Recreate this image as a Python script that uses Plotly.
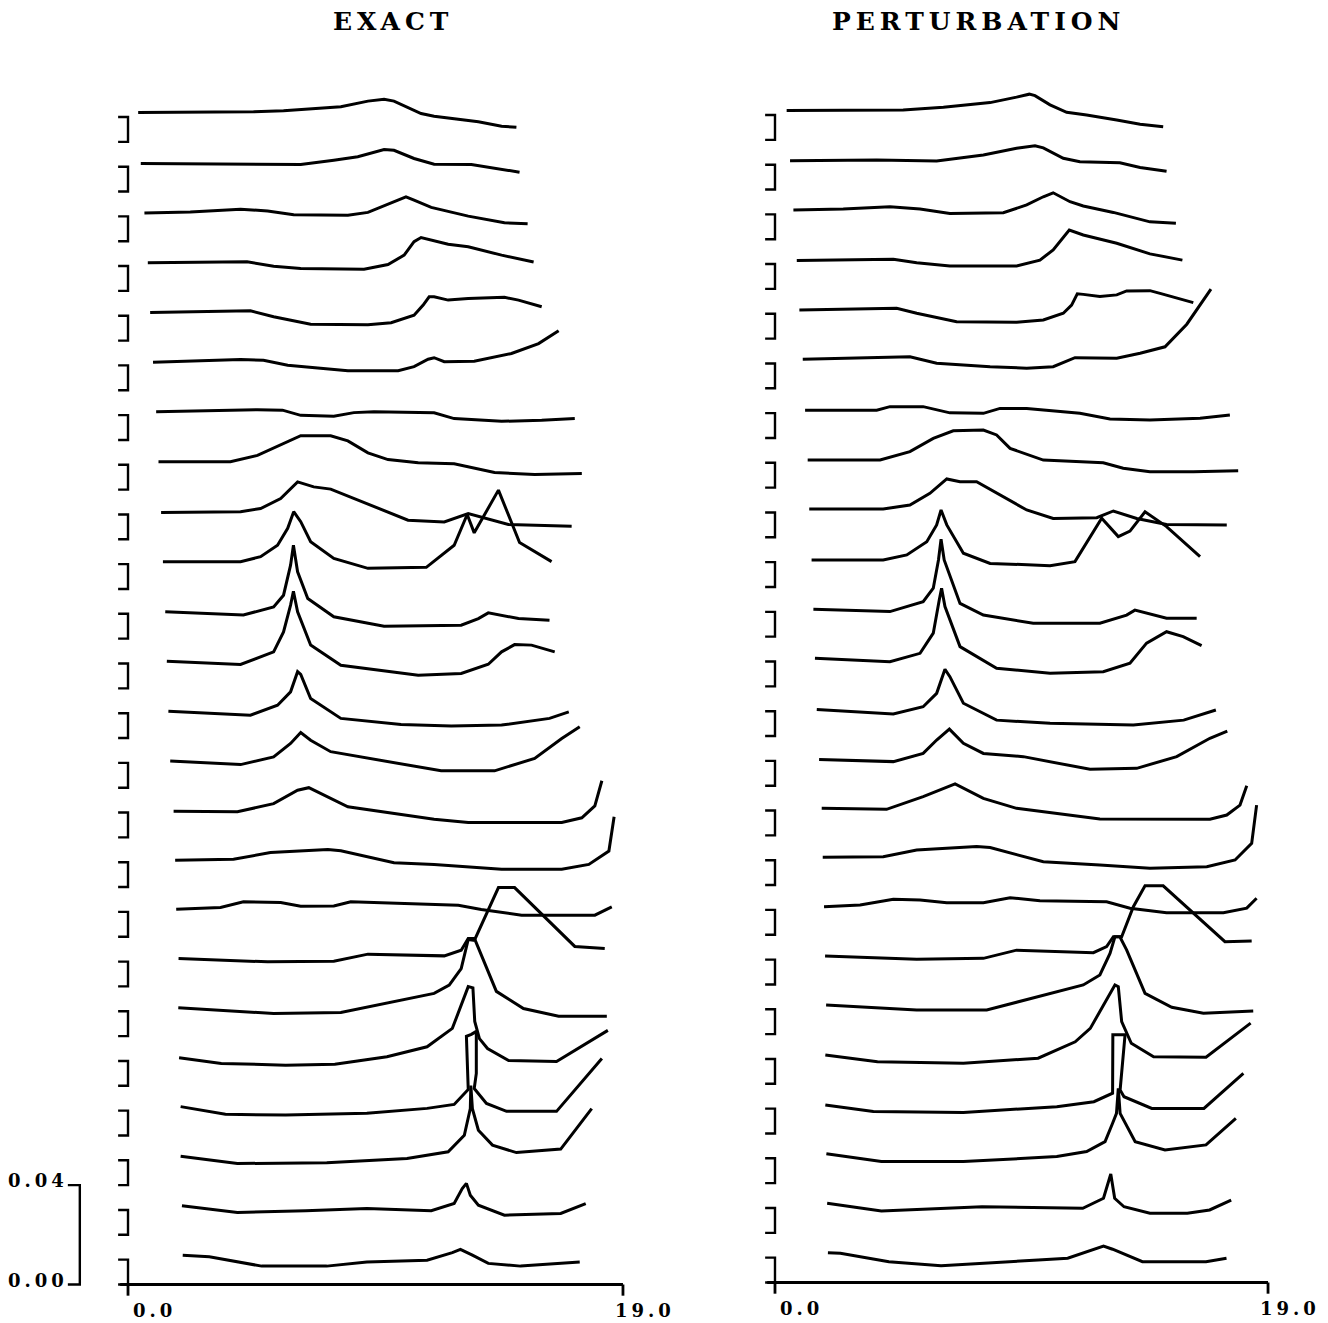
import plotly.graph_objects as go

# ---------------- data ----------------
N_TRACES = 24
TRACE_STEP = 0.02        # vertical offset between successive records
BRACKET_HEIGHT = 0.01
AMP_UNIT = 1e-3          # the Y lists below are in thousandths

TITLES = ["EXACT", "PERTURBATION"]
X_TICK_VALUES = [0.0, 19.0]
X_TICK_LABELS = ["0.0", "19.0"]
SCALE_VALUES = [0.00, 0.04]
SCALE_LABELS = ["0.00", "0.04"]

EXACT_X = [
    [0.39, 4.82, 5.97, 8.17, 9.21, 9.83, 10.21, 11.25, 11.75, 13.45, 14.34, 14.91],
    [0.49, 4.32, 6.63, 7.90, 8.82, 9.83, 10.21, 10.98, 11.75, 13.18, 13.95, 15.03],
    [0.63, 2.39, 4.32, 5.36, 6.36, 8.44, 9.21, 9.98, 10.67, 10.98, 11.64, 13.06, 14.45, 15.34],
    [0.76, 4.57, 5.59, 6.63, 9.06, 9.98, 10.60, 10.98, 11.25, 11.64, 12.29, 13.06, 14.34, 15.57],
    [0.85, 4.70, 5.59, 7.01, 9.21, 10.10, 10.98, 11.33, 11.56, 11.75, 12.29, 13.06, 14.45, 14.99, 15.88],
    [0.96, 4.32, 5.20, 6.13, 8.44, 10.37, 10.98, 11.52, 11.75, 12.14, 13.29, 14.72, 15.76, 16.53],
    [1.08, 3.66, 4.97, 5.93, 6.63, 7.90, 8.67, 9.44, 11.75, 12.52, 14.34, 15.88, 17.15],
    [1.17, 3.93, 4.97, 5.86, 6.63, 7.78, 8.44, 9.21, 9.98, 11.14, 12.52, 14.07, 15.61, 17.42],
    [1.27, 4.32, 5.09, 5.86, 6.51, 7.13, 7.78, 8.67, 9.60, 10.75, 12.14, 12.79, 13.06, 14.60, 17.03],
    [1.34, 4.32, 5.09, 5.74, 6.13, 6.36, 6.63, 7.01, 7.90, 9.21, 11.45, 12.52, 13.02, 13.29, 14.22, 15.03, 16.26],
    [1.43, 4.43, 5.59, 5.97, 6.24, 6.35, 6.51, 6.90, 7.90, 9.83, 12.79, 13.45, 13.83, 14.99, 16.18],
    [1.49, 4.32, 5.59, 5.97, 6.24, 6.35, 6.51, 7.01, 8.17, 11.14, 12.79, 13.83, 14.34, 14.84, 15.49, 16.38],
    [1.55, 4.70, 5.74, 6.24, 6.51, 6.63, 7.01, 8.17, 10.48, 12.41, 14.34, 16.18, 16.92],
    [1.62, 4.32, 5.59, 6.24, 6.63, 7.01, 7.78, 9.60, 12.02, 14.07, 15.61, 16.65, 17.34],
    [1.75, 4.20, 5.59, 6.51, 6.94, 7.40, 8.44, 11.75, 13.06, 16.65, 17.42, 17.92, 18.19],
    [1.81, 4.05, 5.47, 7.67, 8.17, 10.21, 11.75, 14.34, 16.65, 17.69, 18.46, 18.66],
    [1.85, 3.55, 4.43, 5.86, 6.63, 7.90, 8.55, 10.10, 12.68, 13.56, 15.11, 17.92, 18.57],
    [1.94, 5.36, 7.90, 9.21, 12.14, 12.79, 13.06, 13.33, 14.22, 14.84, 17.15, 18.30],
    [1.93, 5.59, 8.17, 10.48, 11.75, 12.33, 12.79, 13.06, 13.33, 14.14, 15.18, 16.53, 18.38],
    [1.96, 3.58, 6.05, 7.94, 9.94, 11.48, 12.45, 13.06, 13.24, 13.31, 13.49, 13.80, 14.61, 16.45, 18.42],
    [2.02, 3.74, 6.05, 9.17, 11.48, 12.52, 13.06, 12.99, 13.18, 13.37, 13.37, 13.29, 13.76, 14.53, 16.45, 18.19],
    [2.02, 4.20, 7.63, 10.71, 12.29, 12.91, 13.14, 13.16, 13.22, 13.45, 13.99, 14.91, 16.61, 17.80],
    [2.07, 4.20, 6.82, 9.17, 11.64, 12.52, 12.83, 12.99, 13.14, 13.45, 14.45, 16.61, 17.57],
    [2.10, 3.12, 5.13, 7.63, 9.17, 11.48, 12.45, 12.76, 13.22, 13.83, 15.07, 17.34],
]
EXACT_Y = [
    [11.8, 12.1, 12.5, 14.1, 16.4, 17.1, 16.4, 11.4, 10.3, 8.1, 6.3, 5.9],
    [11.3, 10.9, 10.9, 12.6, 14.0, 16.9, 16.6, 13.3, 11.0, 10.9, 9.5, 7.8],
    [11.4, 11.8, 12.9, 12.2, 10.7, 10.5, 11.6, 14.8, 17.9, 16.5, 13.6, 10.1, 7.4, 7.0],
    [11.3, 11.7, 9.9, 9.0, 8.7, 10.6, 14.4, 19.8, 21.5, 20.4, 18.8, 17.8, 14.4, 11.6],
    [11.3, 12.0, 9.6, 6.6, 6.4, 7.2, 10.2, 14.3, 17.6, 17.6, 16.3, 16.9, 17.4, 16.3, 13.6],
    [11.3, 12.4, 12.1, 10.1, 7.9, 7.9, 9.5, 12.5, 13.1, 11.5, 11.7, 14.8, 18.8, 24.0],
    [11.3, 11.7, 12.2, 12.0, 9.9, 9.5, 11.0, 11.3, 10.9, 8.6, 7.5, 7.9, 8.6],
    [11.2, 11.2, 13.8, 17.9, 21.7, 21.7, 19.6, 14.8, 12.1, 10.8, 10.4, 6.9, 6.1, 6.5],
    [10.8, 11.1, 12.4, 16.4, 23.1, 21.1, 20.2, 16.4, 12.4, 7.7, 7.0, 9.6, 10.4, 6.0, 5.3],
    [11.0, 11.0, 13.0, 17.6, 24.4, 31.1, 27.1, 19.0, 12.3, 8.3, 8.7, 17.6, 30.0, 22.6, 39.8, 18.7, 11.0],
    [10.8, 9.5, 12.8, 17.5, 29.6, 37.6, 26.9, 16.2, 8.8, 5.0, 5.4, 8.1, 10.4, 8.1, 7.4],
    [10.9, 9.6, 14.7, 22.7, 33.5, 39.1, 30.8, 17.4, 9.3, 5.3, 6.0, 9.7, 14.7, 17.6, 17.4, 14.7],
    [10.8, 9.2, 13.2, 18.6, 26.7, 25.6, 15.9, 7.9, 5.4, 4.8, 5.2, 7.9, 10.5],
    [10.7, 9.3, 12.4, 17.8, 22.2, 19.1, 14.5, 11.1, 6.8, 6.8, 11.8, 19.8, 24.5],
    [10.5, 10.3, 13.6, 19.0, 20.0, 17.7, 12.3, 7.3, 6.0, 6.0, 7.9, 12.7, 22.8],
    [10.8, 11.2, 13.9, 15.1, 14.6, 9.8, 9.1, 7.2, 7.2, 9.1, 14.5, 28.3],
    [11.1, 11.8, 14.1, 13.8, 12.3, 12.4, 14.1, 13.6, 12.7, 11.0, 8.7, 8.7, 12.0],
    [11.2, 9.9, 10.1, 13.0, 12.3, 14.6, 19.3, 19.3, 39.8, 39.8, 16.1, 15.3],
    [11.4, 9.1, 9.5, 14.5, 17.2, 20.5, 27.2, 38.9, 38.5, 18.0, 11.1, 8.0, 8.0],
    [11.3, 9.0, 8.3, 8.7, 11.7, 15.7, 23.1, 39.9, 39.4, 25.9, 19.0, 15.0, 10.2, 9.8, 22.3],
    [11.6, 8.5, 8.2, 8.9, 10.9, 12.5, 18.5, 39.9, 40.7, 41.9, 25.0, 18.9, 12.9, 9.7, 9.7, 31.0],
    [11.6, 8.7, 9.0, 10.7, 13.4, 20.1, 30.8, 40.1, 30.8, 22.1, 16.1, 13.1, 14.5, 30.8],
    [11.7, 9.0, 9.7, 10.6, 9.7, 12.6, 18.6, 20.7, 15.9, 11.9, 7.9, 8.6, 12.6],
    [11.8, 11.2, 7.4, 7.4, 9.1, 9.8, 12.8, 14.1, 11.8, 8.5, 7.4, 9.1],
]

PERT_X = [
    [0.45, 4.94, 6.49, 8.29, 9.31, 9.80, 10.02, 10.60, 11.24, 12.01, 13.17, 14.07, 14.96],
    [0.58, 3.92, 6.23, 8.03, 9.31, 10.02, 10.34, 11.11, 11.75, 13.29, 14.07, 15.09],
    [0.71, 2.63, 4.43, 5.59, 6.74, 8.80, 9.70, 10.34, 10.72, 11.37, 11.88, 13.04, 14.45, 15.45],
    [0.84, 4.56, 5.46, 6.74, 9.31, 10.21, 10.72, 11.11, 11.34, 11.88, 12.40, 13.17, 14.45, 15.70],
    [0.94, 4.69, 5.46, 7.00, 9.31, 10.34, 11.11, 11.43, 11.65, 11.88, 12.52, 13.17, 13.55, 14.45, 14.84, 16.12],
    [1.07, 3.66, 5.20, 6.23, 8.29, 9.70, 10.72, 11.56, 13.17, 14.07, 15.03, 15.87, 16.80],
    [1.16, 3.92, 4.43, 5.71, 6.74, 8.03, 8.67, 9.70, 11.75, 12.91, 14.45, 16.38, 17.53],
    [1.26, 4.05, 5.20, 6.10, 6.87, 8.03, 8.54, 9.06, 10.34, 12.65, 13.42, 14.45, 16.12, 17.85],
    [1.32, 4.17, 5.20, 5.97, 6.62, 7.13, 7.77, 8.80, 9.70, 10.72, 12.40, 13.04, 13.94, 15.09, 17.41],
    [1.41, 4.17, 5.08, 5.85, 6.23, 6.40, 6.62, 7.26, 8.29, 10.60, 11.56, 12.59, 13.23, 13.68, 14.26, 15.09, 16.38],
    [1.48, 4.43, 5.71, 6.10, 6.30, 6.40, 6.52, 7.13, 8.03, 9.95, 12.52, 13.55, 13.87, 15.09, 16.25],
    [1.54, 4.43, 5.59, 6.10, 6.33, 6.42, 6.55, 7.13, 8.54, 10.60, 12.65, 13.68, 14.32, 15.09, 15.73, 16.44],
    [1.61, 4.56, 5.71, 6.23, 6.55, 6.74, 7.26, 8.54, 10.60, 13.81, 15.75, 16.99],
    [1.70, 4.56, 5.71, 6.23, 6.72, 7.26, 8.03, 9.57, 12.14, 13.94, 15.48, 16.76, 17.43],
    [1.80, 4.30, 5.71, 6.94, 8.03, 9.31, 12.52, 16.76, 17.41, 17.92, 18.18],
    [1.84, 4.17, 5.46, 7.77, 8.29, 10.34, 12.52, 14.45, 16.64, 17.73, 18.37, 18.56],
    [1.89, 3.28, 4.56, 5.59, 6.62, 8.03, 9.06, 10.21, 12.78, 13.68, 15.09, 17.28, 18.18, 18.56],
    [1.93, 5.46, 8.03, 9.31, 12.27, 12.78, 13.04, 13.36, 13.81, 14.26, 14.96, 17.34, 18.37],
    [1.97, 5.46, 8.16, 10.60, 11.88, 12.52, 12.91, 13.10, 13.29, 13.55, 14.26, 15.29, 16.51, 18.43],
    [1.94, 3.95, 7.26, 10.14, 11.57, 12.15, 13.10, 13.23, 13.36, 13.73, 14.59, 16.61, 18.33],
    [1.94, 3.79, 7.26, 10.86, 12.29, 13.01, 13.02, 13.49, 13.30, 13.45, 14.52, 16.53, 18.05],
    [1.98, 4.10, 7.26, 10.86, 12.01, 12.72, 13.01, 13.16, 13.23, 13.30, 13.88, 15.03, 16.61, 17.76],
    [2.01, 4.10, 7.98, 11.86, 12.66, 12.94, 13.09, 13.45, 14.45, 15.89, 16.75, 17.58],
    [2.04, 2.52, 4.39, 6.40, 10.14, 11.28, 12.66, 13.01, 14.16, 16.61, 17.40],
]
PERT_Y = [
    [11.8, 12.0, 13.1, 15.0, 17.2, 18.4, 17.8, 14.1, 11.1, 10.0, 8.0, 6.3, 5.3],
    [11.6, 11.9, 11.5, 13.9, 16.6, 17.6, 16.8, 12.6, 11.2, 10.8, 8.9, 7.4],
    [11.8, 12.2, 13.1, 12.2, 10.4, 10.7, 13.8, 17.1, 18.7, 15.1, 13.4, 10.8, 7.0, 6.4],
    [11.4, 11.9, 10.5, 9.2, 9.2, 11.6, 15.7, 21.0, 23.7, 21.7, 20.4, 18.4, 14.1, 11.6],
    [11.5, 12.2, 10.2, 6.8, 6.6, 7.5, 10.2, 13.5, 18.0, 17.8, 16.9, 17.6, 19.2, 19.3, 18.2, 14.5],
    [11.7, 12.5, 12.7, 10.1, 8.7, 8.1, 8.7, 12.3, 12.1, 14.1, 16.7, 25.8, 39.9],
    [11.2, 11.2, 12.6, 12.6, 10.1, 9.9, 11.9, 11.9, 9.9, 7.6, 7.2, 7.9, 9.2],
    [11.1, 11.1, 14.5, 19.8, 22.9, 23.2, 21.2, 15.8, 11.1, 10.0, 7.8, 6.4, 6.4, 6.8],
    [11.4, 11.4, 13.0, 17.7, 23.5, 22.4, 22.4, 16.3, 11.0, 7.6, 7.9, 10.6, 7.6, 5.2, 5.0],
    [10.9, 10.9, 12.9, 18.2, 25.0, 31.0, 25.0, 13.6, 9.5, 8.6, 10.2, 27.7, 20.3, 22.5, 30.3, 24.3, 12.2],
    [11.0, 10.1, 14.1, 19.5, 30.9, 39.2, 30.9, 13.4, 8.7, 5.4, 5.4, 8.7, 10.7, 7.4, 7.4],
    [11.3, 9.9, 13.3, 21.4, 34.8, 39.5, 32.1, 16.0, 7.3, 5.3, 5.9, 9.3, 17.4, 22.0, 20.0, 16.4],
    [10.7, 8.9, 11.8, 17.2, 26.9, 23.9, 13.2, 6.4, 5.1, 4.4, 6.4, 10.5],
    [10.6, 9.7, 13.0, 18.4, 22.8, 17.1, 13.0, 11.7, 6.6, 7.0, 11.7, 19.1, 22.0],
    [10.9, 10.5, 15.6, 20.7, 14.9, 10.9, 6.6, 6.5, 8.2, 12.2, 20.0],
    [11.2, 11.4, 14.1, 15.5, 15.1, 9.4, 8.1, 6.8, 7.4, 10.1, 16.8, 32.2],
    [11.3, 12.0, 14.3, 14.0, 12.9, 12.9, 14.9, 13.7, 13.3, 10.7, 8.9, 8.9, 10.7, 14.7],
    [11.4, 10.1, 10.5, 13.8, 12.8, 15.2, 19.2, 19.2, 31.3, 39.7, 39.7, 17.2, 17.5],
    [11.7, 9.7, 9.7, 16.4, 19.8, 23.8, 32.5, 39.2, 39.2, 33.9, 16.4, 10.8, 8.4, 9.3],
    [11.6, 8.9, 8.3, 10.3, 16.9, 22.3, 39.8, 39.1, 25.0, 16.3, 10.9, 10.7, 24.4],
    [11.5, 8.8, 8.4, 10.8, 12.8, 16.2, 39.7, 39.7, 17.5, 14.8, 10.1, 10.1, 24.2],
    [11.8, 8.7, 8.7, 10.7, 12.7, 16.7, 24.1, 28.1, 38.2, 28.1, 16.7, 13.4, 15.4, 26.1],
    [11.9, 8.8, 10.5, 9.9, 13.9, 23.7, 13.9, 10.5, 7.9, 7.9, 9.2, 13.2],
    [12.0, 11.8, 8.4, 6.7, 9.1, 9.8, 14.7, 13.4, 8.4, 8.4, 9.8],
]

# ---------------- figure ----------------
FONT = "DejaVu Serif"
INK = "#000000"
fig = go.Figure()

panels = [
    (EXACT_X, EXACT_Y, "x", "y"),
    (PERT_X, PERT_Y, "x2", "y2"),
]

STUB = 0.38          # width of bracket stubs (x units)
TICK_LEN = 0.0045    # length of axis ticks below the axis (y units)

for p, (XS, YS, xa, ya) in enumerate(panels):
    # records
    for k in range(N_TRACES):
        off = TRACE_STEP * (N_TRACES - 1 - k)
        fig.add_trace(go.Scatter(
            x=XS[k], y=[off + v * AMP_UNIT for v in YS[k]],
            mode="lines", line=dict(color=INK, width=3.0),
            xaxis=xa, yaxis=ya, showlegend=False, hoverinfo="skip"))
    # brackets marking each record's level
    bx, by = [], []
    for k in range(N_TRACES):
        b = TRACE_STEP * (N_TRACES - 1 - k)
        bx += [-STUB, 0, 0, -STUB, None]
        by += [b + BRACKET_HEIGHT, b + BRACKET_HEIGHT, b, b, None]
    fig.add_trace(go.Scatter(x=bx, y=by, mode="lines",
                             line=dict(color=INK, width=2.4),
                             xaxis=xa, yaxis=ya, showlegend=False, hoverinfo="skip"))
    # x axis line with end ticks
    ax_x = [-0.3, X_TICK_VALUES[1], None, X_TICK_VALUES[0], X_TICK_VALUES[0], None,
            X_TICK_VALUES[1], X_TICK_VALUES[1]]
    ax_y = [0, 0, None, 0, -TICK_LEN, None, 0, -TICK_LEN]
    fig.add_trace(go.Scatter(x=ax_x, y=ax_y, mode="lines",
                             line=dict(color=INK, width=2.8),
                             xaxis=xa, yaxis=ya, showlegend=False, hoverinfo="skip"))
    # tick labels
    fig.add_annotation(x=X_TICK_VALUES[0] + 0.12, y=-0.0105, xref=xa, yref=ya,
                       text='<b><span style="letter-spacing:4px">%s</span></b>' % X_TICK_LABELS[0],
                       showarrow=False, xanchor="left", yanchor="middle",
                       font=dict(family=FONT, size=18, color=INK))
    fig.add_annotation(x=X_TICK_VALUES[1] - 0.40, y=-0.0105, xref=xa, yref=ya,
                       text='<b><span style="letter-spacing:4px">%s</span></b>' % X_TICK_LABELS[1],
                       showarrow=False, xanchor="left", yanchor="middle",
                       font=dict(family=FONT, size=18, color=INK))

# amplitude scale bar (left panel only)
SB_X = -1.85
fig.add_trace(go.Scatter(
    x=[SB_X - 0.46, SB_X, SB_X, SB_X - 0.46],
    y=[SCALE_VALUES[1], SCALE_VALUES[1], SCALE_VALUES[0], SCALE_VALUES[0]],
    mode="lines", line=dict(color=INK, width=2.4),
    xaxis="x", yaxis="y", showlegend=False, hoverinfo="skip"))
for v, lab in zip(SCALE_VALUES, SCALE_LABELS):
    fig.add_annotation(x=SB_X - 0.36, y=v + 0.0018, xref="x", yref="y",
                       text='<b><span style="letter-spacing:4px">%s</span></b>' % lab,
                       showarrow=False, xanchor="right", yanchor="middle",
                       font=dict(family=FONT, size=18, color=INK))

# panel titles
for xp, t in zip([0.296, 0.737], TITLES):
    fig.add_annotation(x=xp, y=0.984, xref="paper", yref="paper",
                       text='<b><span style="letter-spacing:5px">%s</span></b>' % t,
                       showarrow=False, xanchor="center", yanchor="middle",
                       font=dict(family=FONT, size=25, color=INK))

hidden = dict(showgrid=False, zeroline=False, showticklabels=False,
              showline=False, ticks="", fixedrange=True)
fig.update_layout(
    width=1328, height=1323,
    margin=dict(l=0, r=0, t=0, b=0),
    paper_bgcolor="white", plot_bgcolor="white",
    showlegend=False,
    xaxis=dict(domain=[0, 0.5], range=[-4.914, 20.575], anchor="y", **hidden),
    xaxis2=dict(domain=[0.5, 1.0], range=[-4.277, 21.311], anchor="y2", **hidden),
    yaxis=dict(domain=[0, 1], range=[-0.0155, 0.51711], anchor="x", **hidden),
    yaxis2=dict(domain=[0, 1], range=[-0.0163, 0.51631], anchor="x2", **hidden),
)

fig.write_html("out.html",
               config={"displayModeBar": False},
               post_script="document.body.style.margin='0px';document.body.style.overflow='hidden';")
